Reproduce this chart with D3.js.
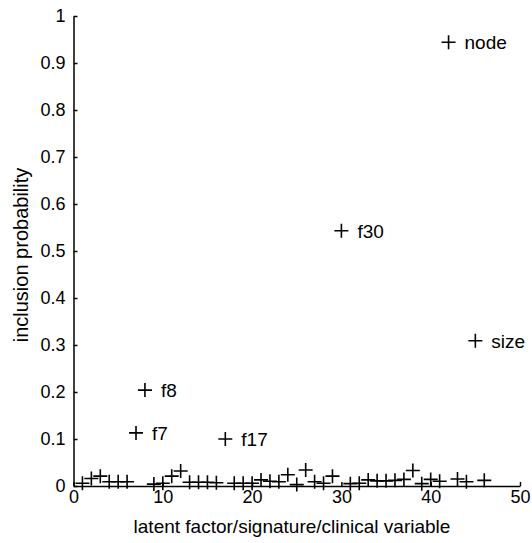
<!DOCTYPE html>
<html>
<head>
<meta charset="utf-8">
<script src="https://cdn.jsdelivr.net/npm/d3@7"></script>
<style>
body{margin:0;background:#fff;}
text{font-family:"Liberation Sans",Arial,sans-serif;}
</style>
</head>
<body>
<div class="canvas"></div>
<script>
// variable index (1..46) and its inclusion probability
const varIndex=d3.range(1,47);
const inclusionProb=[0.006,0.016,0.021,0.009,0.009,0.009,0.113,0.204,0.004,0.006,
  0.021,0.032,0.008,0.008,0.008,0.007,0.100,0.006,0.006,0.006,
  0.013,0.010,0.009,0.024,0.003,0.034,0.009,0.006,0.021,0.543,
  0.005,0.006,0.013,0.011,0.011,0.012,0.014,0.033,0.005,0.014,
  0.010,0.944,0.015,0.009,0.309,0.012];
// labelled variables
const labelIndex=[7,8,17,30,42,45];
const labelNames=['f7','f8','f17','f30','node','size'];
const xTicks=[0,10,20,30,40,50];
const yTicks=[0,0.1,0.2,0.3,0.4,0.5,0.6,0.7,0.8,0.9,1];

const width=532,height=543;
const svg=d3.select('.canvas')
  .append('svg')
    .attr('width',width)
    .attr('height',height);

const x=d3.scaleLinear().domain([0,50]).range([73.5,520]);
const y=d3.scaleLinear().domain([0,1]).range([486,16]);

// axes, ticks pointing inside
const xAxis=d3.axisBottom(x)
  .tickValues(xTicks)
  .tickSizeInner(-4)
  .tickSizeOuter(0)
  .tickPadding(4);
const yAxis=d3.axisLeft(y)
  .tickValues(yTicks)
  .tickSizeInner(-4)
  .tickSizeOuter(0)
  .tickPadding(8)
  .tickFormat(d=>String(+d.toFixed(1)));

const xAxisGroup=svg.append('g')
  .attr('transform',`translate(0,${y(0)})`)
  .call(xAxis);
const yAxisGroup=svg.append('g')
  .attr('transform',`translate(${x(0)},0)`)
  .call(yAxis);

[xAxisGroup,yAxisGroup].forEach(g=>{
  g.selectAll('.domain').attr('stroke','#000').attr('stroke-width',1.5);
  g.selectAll('.tick line').attr('stroke','#000').attr('stroke-width',1.5);
  g.selectAll('text').attr('font-size',18).attr('fill','#000')
    .attr('font-family','"Liberation Sans",Arial,sans-serif');
});

// axis titles
svg.append('text')
  .attr('x',292)
  .attr('y',533)
  .attr('text-anchor','middle')
  .attr('font-size',19)
  .text('latent factor/signature/clinical variable');
svg.append('text')
  .attr('transform',`translate(28,255) rotate(-90)`)
  .attr('text-anchor','middle')
  .attr('font-size',20)
  .text('inclusion probability');

// plus markers
const data=varIndex.map((d,i)=>({idx:d,p:inclusionProb[i]}));
svg.append('g').selectAll('path')
  .data(data)
  .enter()
  .append('path')
    .attr('d','M-7,0H7M0,-7V7')
    .attr('transform',d=>`translate(${x(d.idx)},${y(d.p)})`)
    .attr('stroke','#000')
    .attr('stroke-width',1.6)
    .attr('fill','none');

// labels next to the big ones
svg.append('g').selectAll('text')
  .data(labelIndex)
  .enter()
  .append('text')
    .attr('x',d=>x(d)+16)
    .attr('y',d=>y(inclusionProb[varIndex.indexOf(d)])+7)
    .attr('font-size',19)
    .text((d,i)=>labelNames[i]);
</script>
</body>
</html>
